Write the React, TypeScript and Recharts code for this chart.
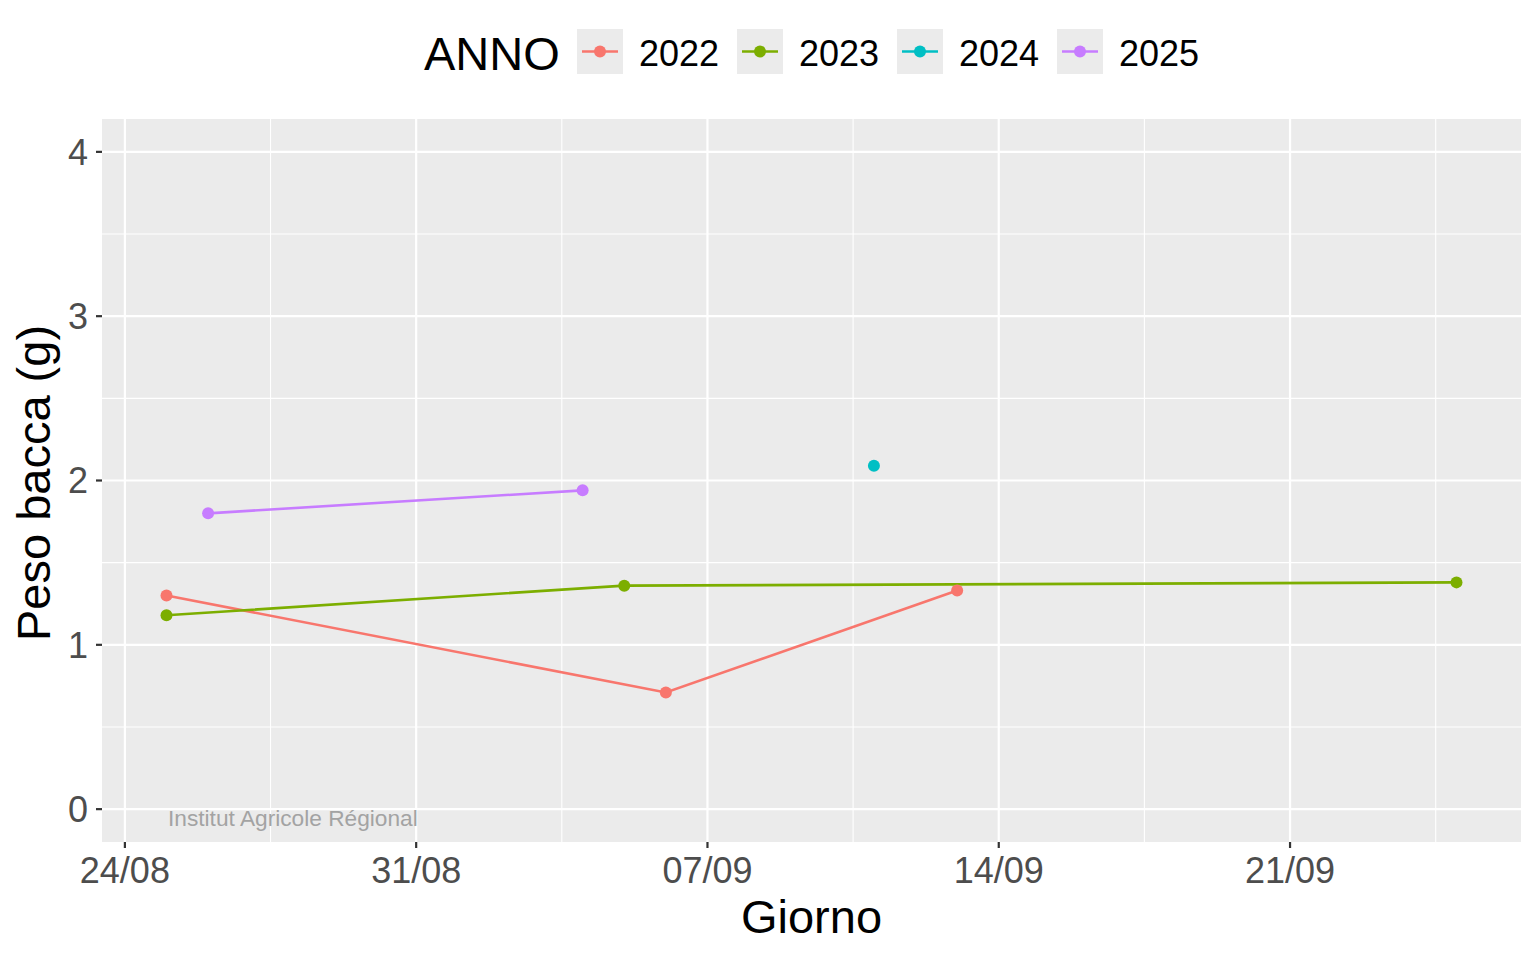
import { LineChart, Line, XAxis, YAxis, CartesianGrid, ReferenceLine } from "recharts";

// days of season, drawn on one calendar (24/08 = day 0)
const days2022 = ["25/08", "06/09", "13/09"];
const peso2022 = [1.3, 0.71, 1.33];
const days2023 = ["25/08", "05/09", "25/09"];
const peso2023 = [1.18, 1.36, 1.38];
const days2024 = ["11/09"];
const peso2024 = [2.09];
const days2025 = ["26/08", "04/09"];
const peso2025 = [1.8, 1.94];

const anni = ["2022", "2023", "2024", "2025"];
const colori = ["#F8766D", "#7CAE00", "#00BFC4", "#C77CFF"];

const xTickLabels = ["24/08", "31/08", "07/09", "14/09", "21/09"];
const xMinorLabels = ["27/08", "03/09", "10/09", "17/09", "24/09"];
const yTicks = [0, 1, 2, 3, 4];
const yMinor = [0.5, 1.5, 2.5, 3.5];

const FONT = "'Liberation Sans', Arial, Helvetica, sans-serif";

const toDay = (s: string) => {
  const [d, m] = s.split("/").map(Number);
  return (Date.UTC(2000, m - 1, d) - Date.UTC(2000, 7, 24)) / 86400000;
};
const build = (days: string[], peso: number[]) => days.map((d, i) => ({ day: toDay(d), peso: peso[i] }));

const serie = [build(days2022, peso2022), build(days2023, peso2023), build(days2024, peso2024), build(days2025, peso2025)];
const xTicks = xTickLabels.map(toDay);
const xMinor = xMinorLabels.map((s) => toDay(s) + 0.5);

export default function App() {
  return (
    <div style={{ position: "absolute", left: 0, top: 0, width: 1536, height: 960, background: "#fff", fontFamily: FONT }}>
      <LineChart width={1536} height={960} margin={{ top: 119, right: 15, bottom: 0, left: 0 }}>
        <CartesianGrid fill="#EBEBEB" horizontal={false} vertical={false} />
        {yMinor.map((v) => (
          <ReferenceLine key={"ym" + v} y={v} stroke="#fff" strokeWidth={1.1} />
        ))}
        {xMinor.map((v) => (
          <ReferenceLine key={"xm" + v} x={v} stroke="#fff" strokeWidth={1.1} />
        ))}
        {yTicks.map((v) => (
          <ReferenceLine key={"y" + v} y={v} stroke="#fff" strokeWidth={2.2} />
        ))}
        {xTicks.map((v) => (
          <ReferenceLine key={"x" + v} x={v} stroke="#fff" strokeWidth={2.2} />
        ))}
        <XAxis
          dataKey="day"
          type="number"
          domain={[-0.55, 33.55]}
          ticks={xTicks}
          allowDataOverflow
          height={118}
          axisLine={false}
          tickLine={{ stroke: "#333", strokeWidth: 2.2 }}
          tickSize={6}
          tickMargin={9}
          tickFormatter={(v: number) => xTickLabels[xTicks.indexOf(v)] ?? ""}
          tick={{ fill: "#4D4D4D", fontSize: 36, fontFamily: FONT }}
          interval={0}
        />
        <YAxis
          type="number"
          domain={[-0.2, 4.2]}
          ticks={yTicks}
          allowDataOverflow
          width={102}
          axisLine={false}
          tickLine={{ stroke: "#333", strokeWidth: 2.2 }}
          tickSize={6}
          tickMargin={8}
          tick={{ fill: "#4D4D4D", fontSize: 36, fontFamily: FONT }}
          interval={0}
        />
        {serie.map((data, i) => (
          <Line
            key={anni[i]}
            data={data}
            dataKey="peso"
            type="linear"
            stroke={colori[i]}
            strokeWidth={2.6}
            dot={{ r: 6, fill: colori[i], stroke: "none" }}
            activeDot={false}
            isAnimationActive={false}
          />
        ))}
      </LineChart>
      <svg width={1536} height={960} style={{ position: "absolute", left: 0, top: 0, pointerEvents: "none" }}>
        <text x={424} y={70} fontSize={47} fill="#000" fontFamily={FONT}>
          ANNO
        </text>
        {anni.map((a, i) => (
          <g key={a}>
            <rect x={577 + 160 * i} y={29} width={46} height={45} fill="#EBEBEB" />
            <line x1={582 + 160 * i} x2={618 + 160 * i} y1={51.5} y2={51.5} stroke={colori[i]} strokeWidth={2.6} />
            <circle cx={600 + 160 * i} cy={51.5} r={6} fill={colori[i]} />
            <text x={639 + 160 * i} y={66} fontSize={36} fill="#000" fontFamily={FONT}>
              {a}
            </text>
          </g>
        ))}
        <text x={811.5} y={933} fontSize={47} textAnchor="middle" fill="#000" fontFamily={FONT}>
          Giorno
        </text>
        <text x={50} y={483} fontSize={47} textAnchor="middle" fill="#000" fontFamily={FONT} transform="rotate(-90 50 483)">
          Peso bacca (g)
        </text>
        <text x={168} y={826} fontSize={22.7} fill="#A3A3A3" fontFamily={FONT}>
          Institut Agricole Régional
        </text>
      </svg>
    </div>
  );
}
